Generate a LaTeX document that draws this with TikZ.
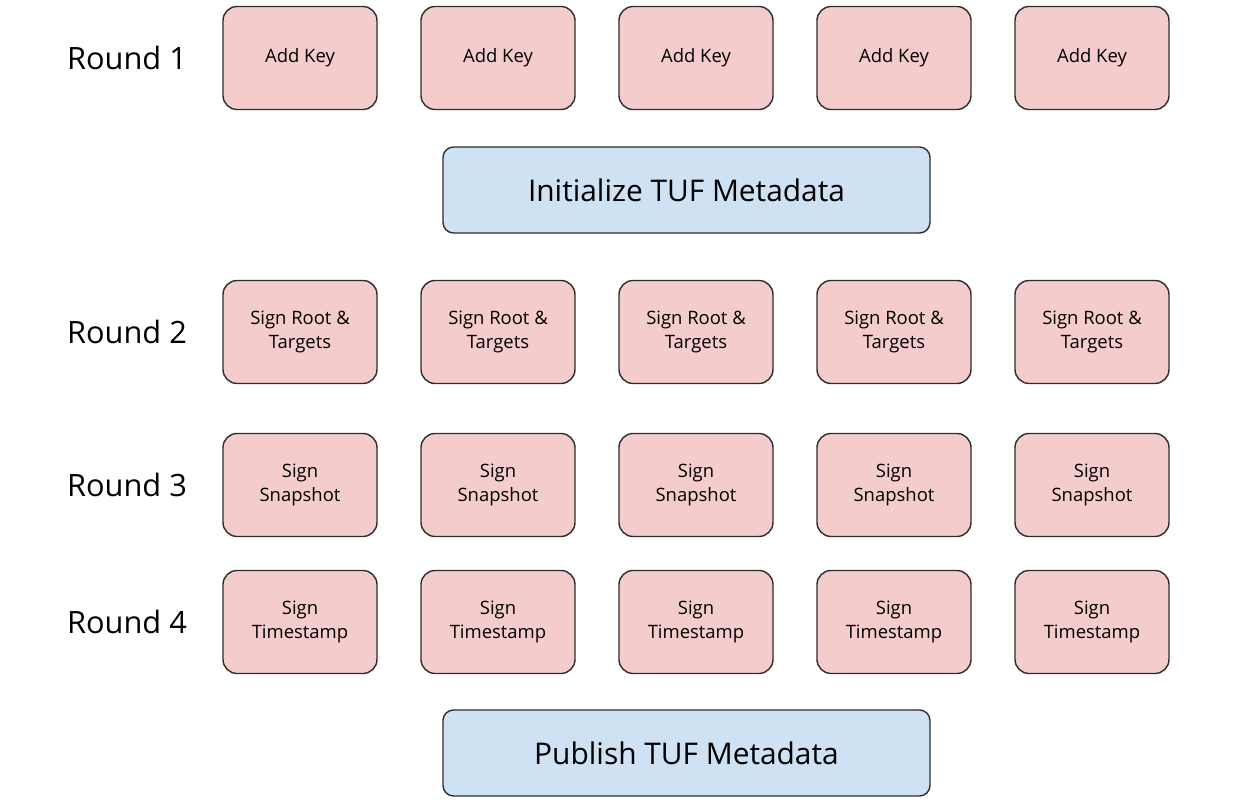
\documentclass[tikz,border=0pt]{standalone}
\usepackage{fontspec}
\setmainfont{Open Sans}
\usetikzlibrary{positioning}
\definecolor{keypink}{RGB}{244,204,204}
\definecolor{metablue}{RGB}{207,226,243}
\definecolor{edgegray}{RGB}{45,45,45}
\tikzset{
  task/.style={draw=edgegray, fill=keypink, line width=0.8pt, rounded corners=8pt,
               minimum width=3.08cm, minimum height=2.06cm, inner sep=0pt,
               align=center, font=\fontsize{10.5}{13.6}\selectfont},
  meta/.style={draw=edgegray, fill=metablue, line width=0.8pt, rounded corners=6pt,
               minimum width=9.74cm, minimum height=1.72cm, inner sep=0pt,
               font=\fontsize{17}{20}\selectfont},
  roundlbl/.style={font=\fontsize{17.5}{20}\selectfont, inner sep=0pt}
}
\begin{document}
\begin{tikzpicture}
\useasboundingbox (0,0) rectangle (25.1,-16.12);
% round labels
\node[roundlbl] (r1) at (2.54,-1.16) {Round 1};
\node[roundlbl] (r2) at (2.54,-6.64) {Round 2};
\node[roundlbl] (r3) at (2.54,-9.70) {Round 3};
\node[roundlbl] (r4) at (2.54,-12.44) {Round 4};
% signer boxes, one column per key holder
\foreach \i/\x in {1/6.0,2/9.96,3/13.92,4/17.88,5/21.84} {
  \node[task] (add\i) at (\x,-1.16) {Add Key};
  \node[task] (root\i) at (\x,-6.64) {Sign Root \&\\Targets};
  \node[task] (snap\i) at (\x,-9.70) {Sign\\Snapshot};
  \node[task] (time\i) at (\x,-12.44) {Sign\\Timestamp};
}
% metadata steps
\node[meta] (init) at (13.73,-3.80) {Initialize TUF Metadata};
\node[meta] (publish) at (13.73,-15.06) {Publish TUF Metadata};
\end{tikzpicture}
\end{document}
